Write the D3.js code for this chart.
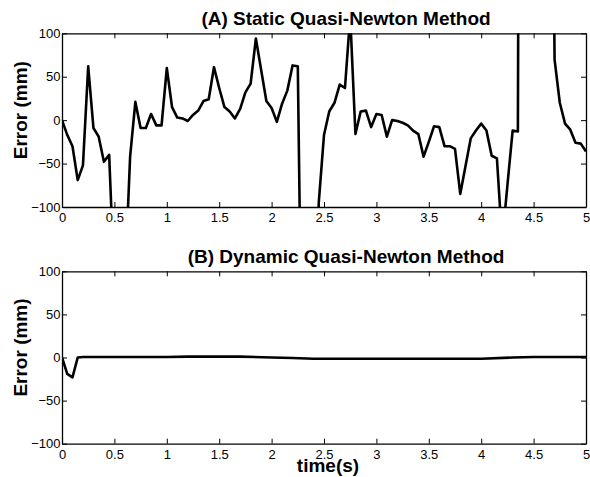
<!DOCTYPE html>
<html>
<head>
  <meta charset="UTF-8">
  <title>Quasi-Newton error</title>
  <script src="https://d3js.org/d3.v7.min.js"></script>
  <style>
    body { margin: 0; background: #fff; font-family: "Liberation Sans", Arial, Helvetica, sans-serif; }
    .tick text { font-size: 13px; fill: #000; }
    .lbl { font-size: 19px; font-weight: bold; fill: #000; }
  </style>
</head>
<body>
  <div id="chart"></div>
  <script>
    // panel A: static method, sampled every 0.05 s
    const timeA = d3.range(0, 101).map(i => i * 0.05);
    const errA = [
      0, -17, -30, -69, -52, 62, -9, -19, -48, -40,
      -190, -300, -187, -42, 21, -9, -9, 7, -6, -6,
      60, 15, 3, 2, -1, 6, 11, 22, 24, 61,
      37, 15, 10, 2, 13, 32, 42, 94, 58, 22,
      14, -2, 19, 34, 63, 62, -400, -500, -300, -95,
      -17, 10, 20, 41, 37, 120, -16, 10, 11, -8,
      7, 6, -19, 0, -1, -3, -6, -12, -16, -42,
      -25, -7, -8, -30, -30, -33, -85, -53, -21, -12,
      -4, -12, -41, -44, -140, -75, -12, -13, 2000, 2500,
      2500, 2500, 2000, 800, 70, 20, -4, -11, -26, -27,
      -36
    ];

    // panel B: dynamic method
    const timeB = [0, 0.05, 0.1, 0.15, 0.2, 0.5, 1.0, 1.2, 1.5, 1.7, 2.0, 2.2, 2.4, 3.0, 3.5, 4.0, 4.3, 4.5, 5.0];
    const errB  = [0, -19, -23, 0, 0.5, 0.5, 0.5, 1, 1, 1, 0, -0.5, -1.5, -1.5, -1.5, -1.5, 0, 0.5, 0.5];

    const xTicks = [0, 0.5, 1, 1.5, 2, 2.5, 3, 3.5, 4, 4.5, 5];
    const yTicks = [-100, -50, 0, 50, 100];

    const W = 590, H = 477;
    const left = 62, right = 586;

    const svg = d3.select("#chart").append("svg")
      .attr("width", W).attr("height", H);

    function panel(id, top, bottom, title, times, vals, xlabel) {
      const x = d3.scaleLinear().domain([0, 5]).range([left, right]);
      const y = d3.scaleLinear().domain([-100, 100]).range([bottom, top]);
      const g = svg.append("g");

      g.append("clipPath").attr("id", id)
        .append("rect")
        .attr("x", left).attr("y", top)
        .attr("width", right - left).attr("height", bottom - top);

      const line = d3.line().x((d, i) => x(times[i])).y(d => y(d));
      g.append("path")
        .datum(vals)
        .attr("clip-path", `url(#${id})`)
        .attr("fill", "none")
        .attr("stroke", "#000")
        .attr("stroke-width", 2.6)
        .attr("stroke-linejoin", "round")
        .attr("d", line);

      // MATLAB style box with inward ticks
      const axB = g.append("g").attr("transform", `translate(0,${bottom})`)
        .call(d3.axisBottom(x).tickValues(xTicks).tickSizeInner(-5).tickSizeOuter(0).tickPadding(6).tickFormat(d3.format("")));
      const axT = g.append("g").attr("transform", `translate(0,${top})`)
        .call(d3.axisTop(x).tickValues(xTicks).tickSizeInner(-5).tickSizeOuter(0).tickFormat(""));
      const axL = g.append("g").attr("transform", `translate(${left},0)`)
        .call(d3.axisLeft(y).tickValues(yTicks).tickSizeInner(-5).tickSizeOuter(0).tickPadding(1.5));
      const axR = g.append("g").attr("transform", `translate(${right},0)`)
        .call(d3.axisRight(y).tickValues(yTicks).tickSizeInner(-5).tickSizeOuter(0).tickFormat(""));
      [axB, axT, axL, axR].forEach(a => {
        a.selectAll(".domain").attr("stroke", "#000").attr("stroke-width", 1.3);
        a.selectAll("line").attr("stroke", "#000").attr("stroke-width", 1);
        a.attr("font-family", null).attr("font-size", null);
      });

      g.append("text").attr("class", "lbl")
        .attr("x", 346).attr("y", top - 8.5)
        .attr("text-anchor", "middle")
        .text(title);

      g.append("text").attr("class", "lbl")
        .attr("transform", `translate(27,${(top + bottom) / 2 - 10}) rotate(-90)`)
        .attr("text-anchor", "middle")
        .text("Error (mm)");

      if (xlabel) {
        g.append("text").attr("class", "lbl")
          .attr("x", 328).attr("y", 472)
          .attr("text-anchor", "middle")
          .text(xlabel);
      }
    }

    panel("clipA", 33.3, 207, "(A) Static Quasi-Newton Method", timeA, errA, null);
    panel("clipB", 271.3, 443.7, "(B) Dynamic Quasi-Newton Method", timeB, errB, "time(s)");
  </script>
</body>
</html>
